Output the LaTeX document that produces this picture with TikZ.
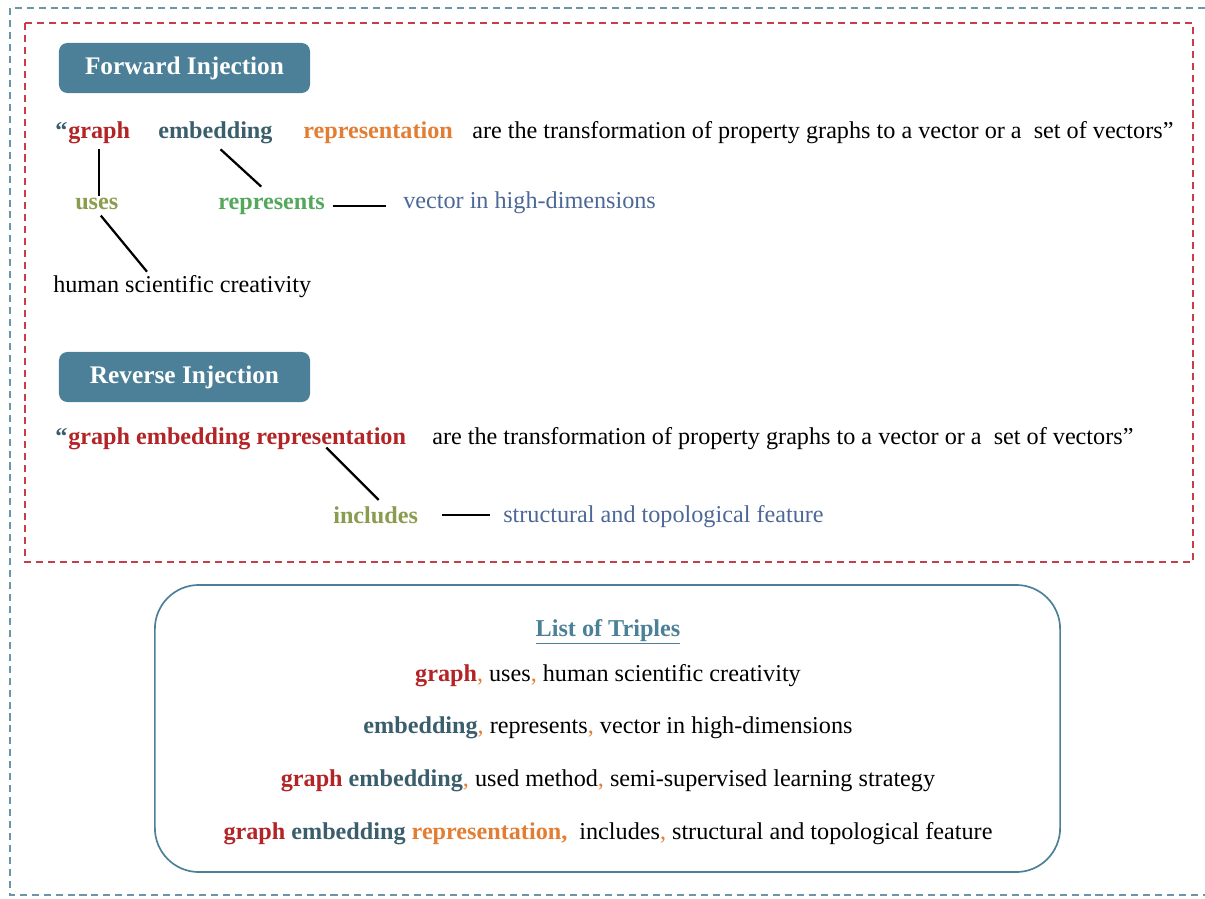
\documentclass[tikz,border=0pt]{standalone}
\usepackage{fontspec}
\setmainfont{Liberation Serif}
\usepackage{tikz}
\usetikzlibrary{calc}

\definecolor{headteal}{RGB}{76,128,152}
\definecolor{graphred}{RGB}{178,36,38}
\definecolor{embedteal}{RGB}{58,94,108}
\definecolor{reporange}{RGB}{226,126,52}
\definecolor{usesolive}{RGB}{138,156,78}
\definecolor{repgreen}{RGB}{84,168,92}
\definecolor{objblue}{RGB}{76,104,150}
\definecolor{outerline}{RGB}{108,150,166}
\definecolor{innerline}{RGB}{200,62,72}

\newcommand{\ocomma}{\textcolor{reporange}{,}}

\begin{document}
\begin{tikzpicture}[x=0.025cm,y=-0.025cm,
        txt/.style={inner sep=0pt,anchor=base west,font=\fontsize{17.2}{20}\selectfont},
        bf/.style={txt,font=\fontsize{17.2}{20}\selectfont\bfseries},
        hdr/.style={rectangle,rounded corners=6pt,fill=headteal,text=white,
            minimum width=6.275cm,minimum height=1.25cm,font=\fontsize{18}{20}\selectfont\bfseries},
        trip/.style={inner sep=0pt,anchor=base,font=\fontsize{17.2}{20}\selectfont},
        lnk/.style={line width=1.6pt,black},
        dashframe/.style={line width=1.3pt,dash pattern=on 5pt off 3.5pt}]

    \useasboundingbox (0,0) rectangle (1205,899);

    % frames
    \draw[dashframe,outerline] (1205,8) -- (10,8) -- (10,895) -- (1205,895);
    \draw[dashframe,innerline] (25,23) rectangle (1193,562);

    % Forward injection
    \node[hdr] (fwdhead) at (184.5,68) {Forward Injection};

    \node[bf,text=embedteal] (fquote) at (55,139) {“};
    \node[bf,text=graphred] (fgraph) at (68,139) {graph};
    \node[bf,text=embedteal] (fembed) at (158,139) {embedding};
    \node[bf,text=reporange] (frepr) at (303,139) {representation};
    \node[txt] (frest) at (472,139) {are the transformation of property graphs to a vector or a\ \ set of vectors”};

    \node[bf,text=usesolive] (fuses) at (75,210) {uses};
    \node[bf,text=repgreen] (frepresents) at (218,210) {represents};
    \node[txt,text=objblue] (fvector) at (403,209) {vector in high-dimensions};
    \node[txt] (fhuman) at (53,293) {human scientific creativity};

    \draw[lnk,shorten <=3pt,shorten >=2pt] (fgraph.south) -- (fgraph.south |- fuses.north);
    \draw[lnk,shorten <=5pt,shorten >=10pt] (fembed.south) -- (frepresents.north);
    \draw[lnk] ($(fuses.south)+(4,5)$) -- ($(fhuman.north west)+(94,-4)$);
    \draw[lnk,shorten <=5.5pt,shorten >=12pt] (frepresents.east) -- (frepresents.east -| fvector.west);

    % Reverse injection
    \node[hdr] (revhead) at (184.5,377) {Reverse Injection};

    \node[bf,text=embedteal] (rquote) at (55,445) {“};
    \node[bf,text=graphred] (rsubject) at (68,445) {graph embedding representation};
    \node[txt] (rrest) at (432,445) {are the transformation of property graphs to a vector or a\ \ set of vectors”};

    \node[bf,text=usesolive] (rincludes) at (333,523) {includes};
    \node[txt,text=objblue] (rfeature) at (503,522) {structural and topological feature};

    \draw[lnk] ($(rsubject.south east)+(-80,-3)$) -- ($(rincludes.north)+(3,-6)$);
    \draw[lnk,shorten <=17pt,shorten >=9pt] (rincludes.east) -- (rincludes.east -| rfeature.west);

    % List of triples
    \node[draw=headteal,line width=1.2pt,rounded corners=1.1cm,
        minimum width=22.625cm,minimum height=7.175cm] (tripbox) at (607.5,728.5) {};

    \node[trip,text=headteal,font=\fontsize{17.2}{20}\selectfont\bfseries] (ttitle) at (608,636) {\underline{List of Triples}};
    \node[trip] (tone) at (608,681)
        {\textcolor{graphred}{\textbf{graph}}\ocomma{} uses\ocomma{} human scientific creativity};
    \node[trip] (ttwo) at (608,733)
        {\textcolor{embedteal}{\textbf{embedding}}\ocomma{} represents\ocomma{} vector in high-dimensions};
    \node[trip] (tthree) at (608,786)
        {\textcolor{graphred}{\textbf{graph}} \textcolor{embedteal}{\textbf{embedding}}\ocomma{} used method\ocomma{} semi-supervised learning strategy};
    \node[trip] (tfour) at (608,839)
        {\textcolor{graphred}{\textbf{graph}} \textcolor{embedteal}{\textbf{embedding}} \textcolor{reporange}{\textbf{representation,}}\ \ includes\ocomma{} structural and topological feature};

\end{tikzpicture}
\end{document}
